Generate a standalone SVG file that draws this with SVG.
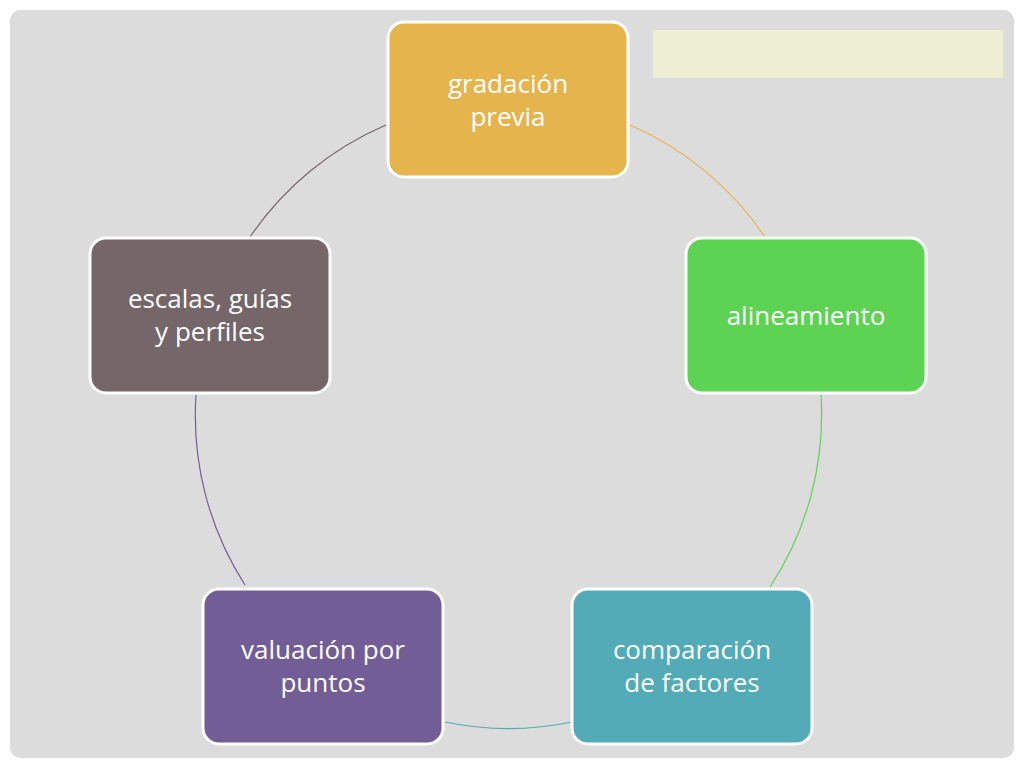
<svg xmlns="http://www.w3.org/2000/svg" width="1024" height="768" viewBox="0 0 1024 768">
<style>
.n{stroke:#fff;stroke-width:3}
.t{font-family:"Open Sans","Liberation Sans",sans-serif;font-size:26px;fill:#fff;text-anchor:middle}
.c{fill:none;stroke-width:1.2}
</style>
<rect width="1024" height="768" fill="#fff"/>
<rect x="10" y="10" width="1004" height="748" rx="10" fill="#dcdcdc"/>
<rect x="653" y="30" width="350" height="48" fill="#eeeed3"/>
<g id="connectors">
<path class="c" stroke="#e6b44c" d="M630,125 A313,313 0 0 1 765,237"/>
<path class="c" stroke="#5dd354" d="M821,395 A313,313 0 0 1 770,587"/>
<path class="c" stroke="#52abb6" d="M572,722 A313,313 0 0 1 445,722"/>
<path class="c" stroke="#735d97" d="M245,585 A313,313 0 0 1 196,395"/>
<path class="c" stroke="#746669" d="M250,237 A313,313 0 0 1 386,125"/>
</g>
<g id="n1"><rect class="n" x="388" y="22" width="240" height="155" rx="16" fill="#e6b44c"/><text class="t" x="508" y="93">gradación</text><text class="t" x="508" y="126">previa</text></g>
<g id="n2"><rect class="n" x="686" y="238" width="240" height="155" rx="16" fill="#5dd354"/><text class="t" x="806" y="325">alineamiento</text></g>
<g id="n3"><rect class="n" x="572" y="589" width="240" height="155" rx="16" fill="#52abb6"/><text class="t" x="692" y="659">comparación</text><text class="t" x="692" y="692">de factores</text></g>
<g id="n4"><rect class="n" x="203" y="589" width="240" height="155" rx="16" fill="#735d97"/><text class="t" x="323" y="659">valuación por</text><text class="t" x="323" y="692">puntos</text></g>
<g id="n5"><rect class="n" x="90" y="238" width="240" height="155" rx="16" fill="#746669"/><text class="t" x="210" y="308">escalas, guías</text><text class="t" x="210" y="341">y perfiles</text></g>
</svg>
